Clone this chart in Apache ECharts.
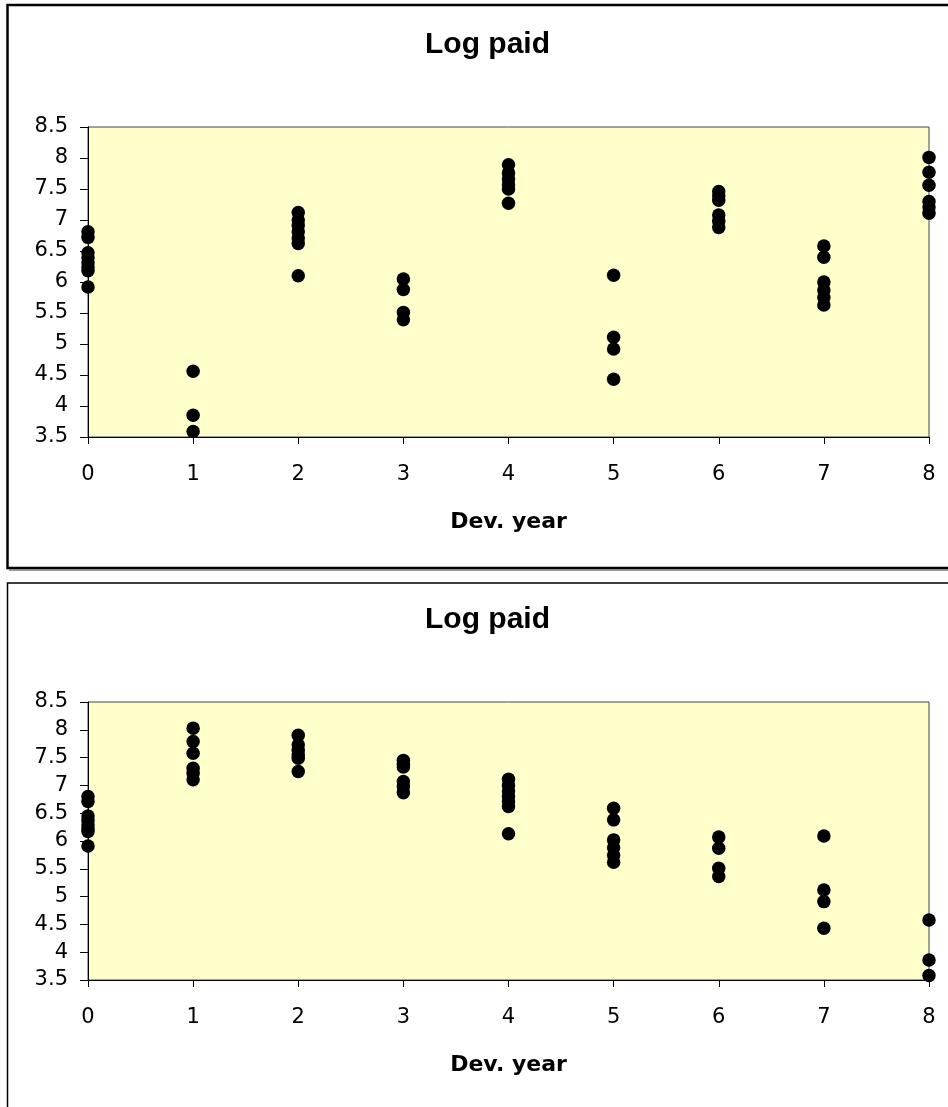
<!DOCTYPE html>
<html>
<head>
<meta charset="utf-8">
<script src="https://cdn.jsdelivr.net/npm/echarts/dist/echarts.min.js"></script>
<style>
  html, body { margin: 0; padding: 0; background: #fff; }
  #chart { width: 948px; height: 1107px; }
</style>
</head>
<body>
<div id="chart"></div>
<script>
// ---- Data ----
var devYears = [0, 1, 2, 3, 4, 5, 6, 7, 8];
var yTicks = [3.5, 4, 4.5, 5, 5.5, 6, 6.5, 7, 7.5, 8, 8.5];

// Top chart: log paid values per development year
var topDev0 = [6.81, 6.72, 6.47, 6.39, 6.31, 6.24, 6.18, 5.92];
var topDev1 = [4.56, 3.85, 3.59];
var topDev2 = [7.12, 7.00, 6.91, 6.81, 6.71, 6.62, 6.10];
var topDev3 = [6.05, 5.88, 5.51, 5.39];
var topDev4 = [7.89, 7.76, 7.66, 7.57, 7.50, 7.27];
var topDev5 = [6.11, 5.11, 4.92, 4.43];
var topDev6 = [7.46, 7.39, 7.32, 7.08, 6.98, 6.88];
var topDev7 = [6.58, 6.40, 6.00, 5.87, 5.75, 5.63];
var topDev8 = [8.01, 7.77, 7.56, 7.30, 7.21, 7.11];

// Bottom chart: log paid values per development year
var botDev0 = [6.80, 6.71, 6.45, 6.37, 6.29, 6.22, 6.17, 5.91];
var botDev1 = [8.03, 7.79, 7.58, 7.31, 7.22, 7.10];
var botDev2 = [7.90, 7.73, 7.63, 7.55, 7.49, 7.25];
var botDev3 = [7.45, 7.38, 7.33, 7.07, 6.98, 6.87];
var botDev4 = [7.11, 7.00, 6.90, 6.80, 6.71, 6.62, 6.13];
var botDev5 = [6.59, 6.38, 6.02, 5.88, 5.75, 5.62];
var botDev6 = [6.07, 5.87, 5.51, 5.36];
var botDev7 = [6.09, 5.12, 4.91, 4.43];
var botDev8 = [4.58, 3.86, 3.58];

var titleText = 'Log paid';
var xAxisName = 'Dev. year';

var topGroups = [topDev0, topDev1, topDev2, topDev3, topDev4, topDev5, topDev6, topDev7, topDev8];
var botGroups = [botDev0, botDev1, botDev2, botDev3, botDev4, botDev5, botDev6, botDev7, botDev8];

function toPoints(groups) {
  var pts = [];
  groups.forEach(function (vals, i) {
    vals.forEach(function (v) { pts.push([devYears[i], v]); });
  });
  return pts;
}

var tickFont = 'DejaVu Sans';

function makeX(gridIndex) {
  return {
    gridIndex: gridIndex,
    type: 'value',
    min: devYears[0],
    max: devYears[devYears.length - 1],
    interval: 1,
    name: xAxisName,
    nameLocation: 'middle',
    nameGap: 74,
    nameTextStyle: { fontFamily: 'DejaVu Sans', fontWeight: 'bold', fontSize: 22, color: '#000' },
    axisLine: { show: true, onZero: false, lineStyle: { color: '#000', width: 1 } },
    axisTick: { show: true, inside: false, length: 7, lineStyle: { color: '#000' } },
    axisLabel: { margin: 27, fontFamily: tickFont, fontSize: 21, color: '#000' },
    splitLine: { show: false }
  };
}
function makeY(gridIndex) {
  return {
    gridIndex: gridIndex,
    type: 'value',
    min: yTicks[0],
    max: yTicks[yTicks.length - 1],
    interval: 0.5,
    axisLine: { show: true, onZero: false, lineStyle: { color: '#000', width: 1 } },
    axisTick: { show: true, inside: false, length: 8, lineStyle: { color: '#000' } },
    axisLabel: { margin: 20, fontFamily: tickFont, fontSize: 21, color: '#000' },
    splitLine: { show: false }
  };
}
function makeSeries(idx, groups) {
  return {
    type: 'scatter',
    xAxisIndex: idx,
    yAxisIndex: idx,
    symbol: 'circle',
    symbolSize: 13.5,
    clip: false,
    itemStyle: { color: '#000', opacity: 1 },
    data: toPoints(groups),
    animation: false
  };
}

var chart = echarts.init(document.getElementById('chart'), null, { renderer: 'canvas' });
chart.setOption({
  animation: false,
  backgroundColor: '#fff',
  title: [
    { text: titleText, left: 425, top: 30, padding: 0,
      textStyle: { fontFamily: 'Liberation Sans', fontWeight: 'bold', fontSize: 30, color: '#000' } },
    { text: titleText, left: 425, top: 605, padding: 0,
      textStyle: { fontFamily: 'Liberation Sans', fontWeight: 'bold', fontSize: 30, color: '#000' } }
  ],
  grid: [
    { left: 88, top: 127, width: 841, height: 310, show: true,
      backgroundColor: '#FFFFCC', borderColor: '#444', borderWidth: 1 },
    { left: 88, top: 702, width: 841, height: 278, show: true,
      backgroundColor: '#FFFFCC', borderColor: '#444', borderWidth: 1 }
  ],
  xAxis: [makeX(0), makeX(1)],
  yAxis: [makeY(0), makeY(1)],
  series: [makeSeries(0, topGroups), makeSeries(1, botGroups)],
  graphic: [
    { type: 'rect', z: -10, silent: true,
      shape: { x: 7.5, y: 5, width: 1000, height: 563 },
      style: { fill: 'none', stroke: '#000', lineWidth: 2.5 } },
    { type: 'line', z: -10, silent: true,
      shape: { x1: 9, y1: 570, x2: 960, y2: 570 },
      style: { stroke: '#777', lineWidth: 1.5 } },
    { type: 'rect', z: -10, silent: true,
      shape: { x: 7.5, y: 583, width: 1000, height: 600 },
      style: { fill: 'none', stroke: '#000', lineWidth: 1.5 } }
  ]
});
</script>
</body>
</html>
